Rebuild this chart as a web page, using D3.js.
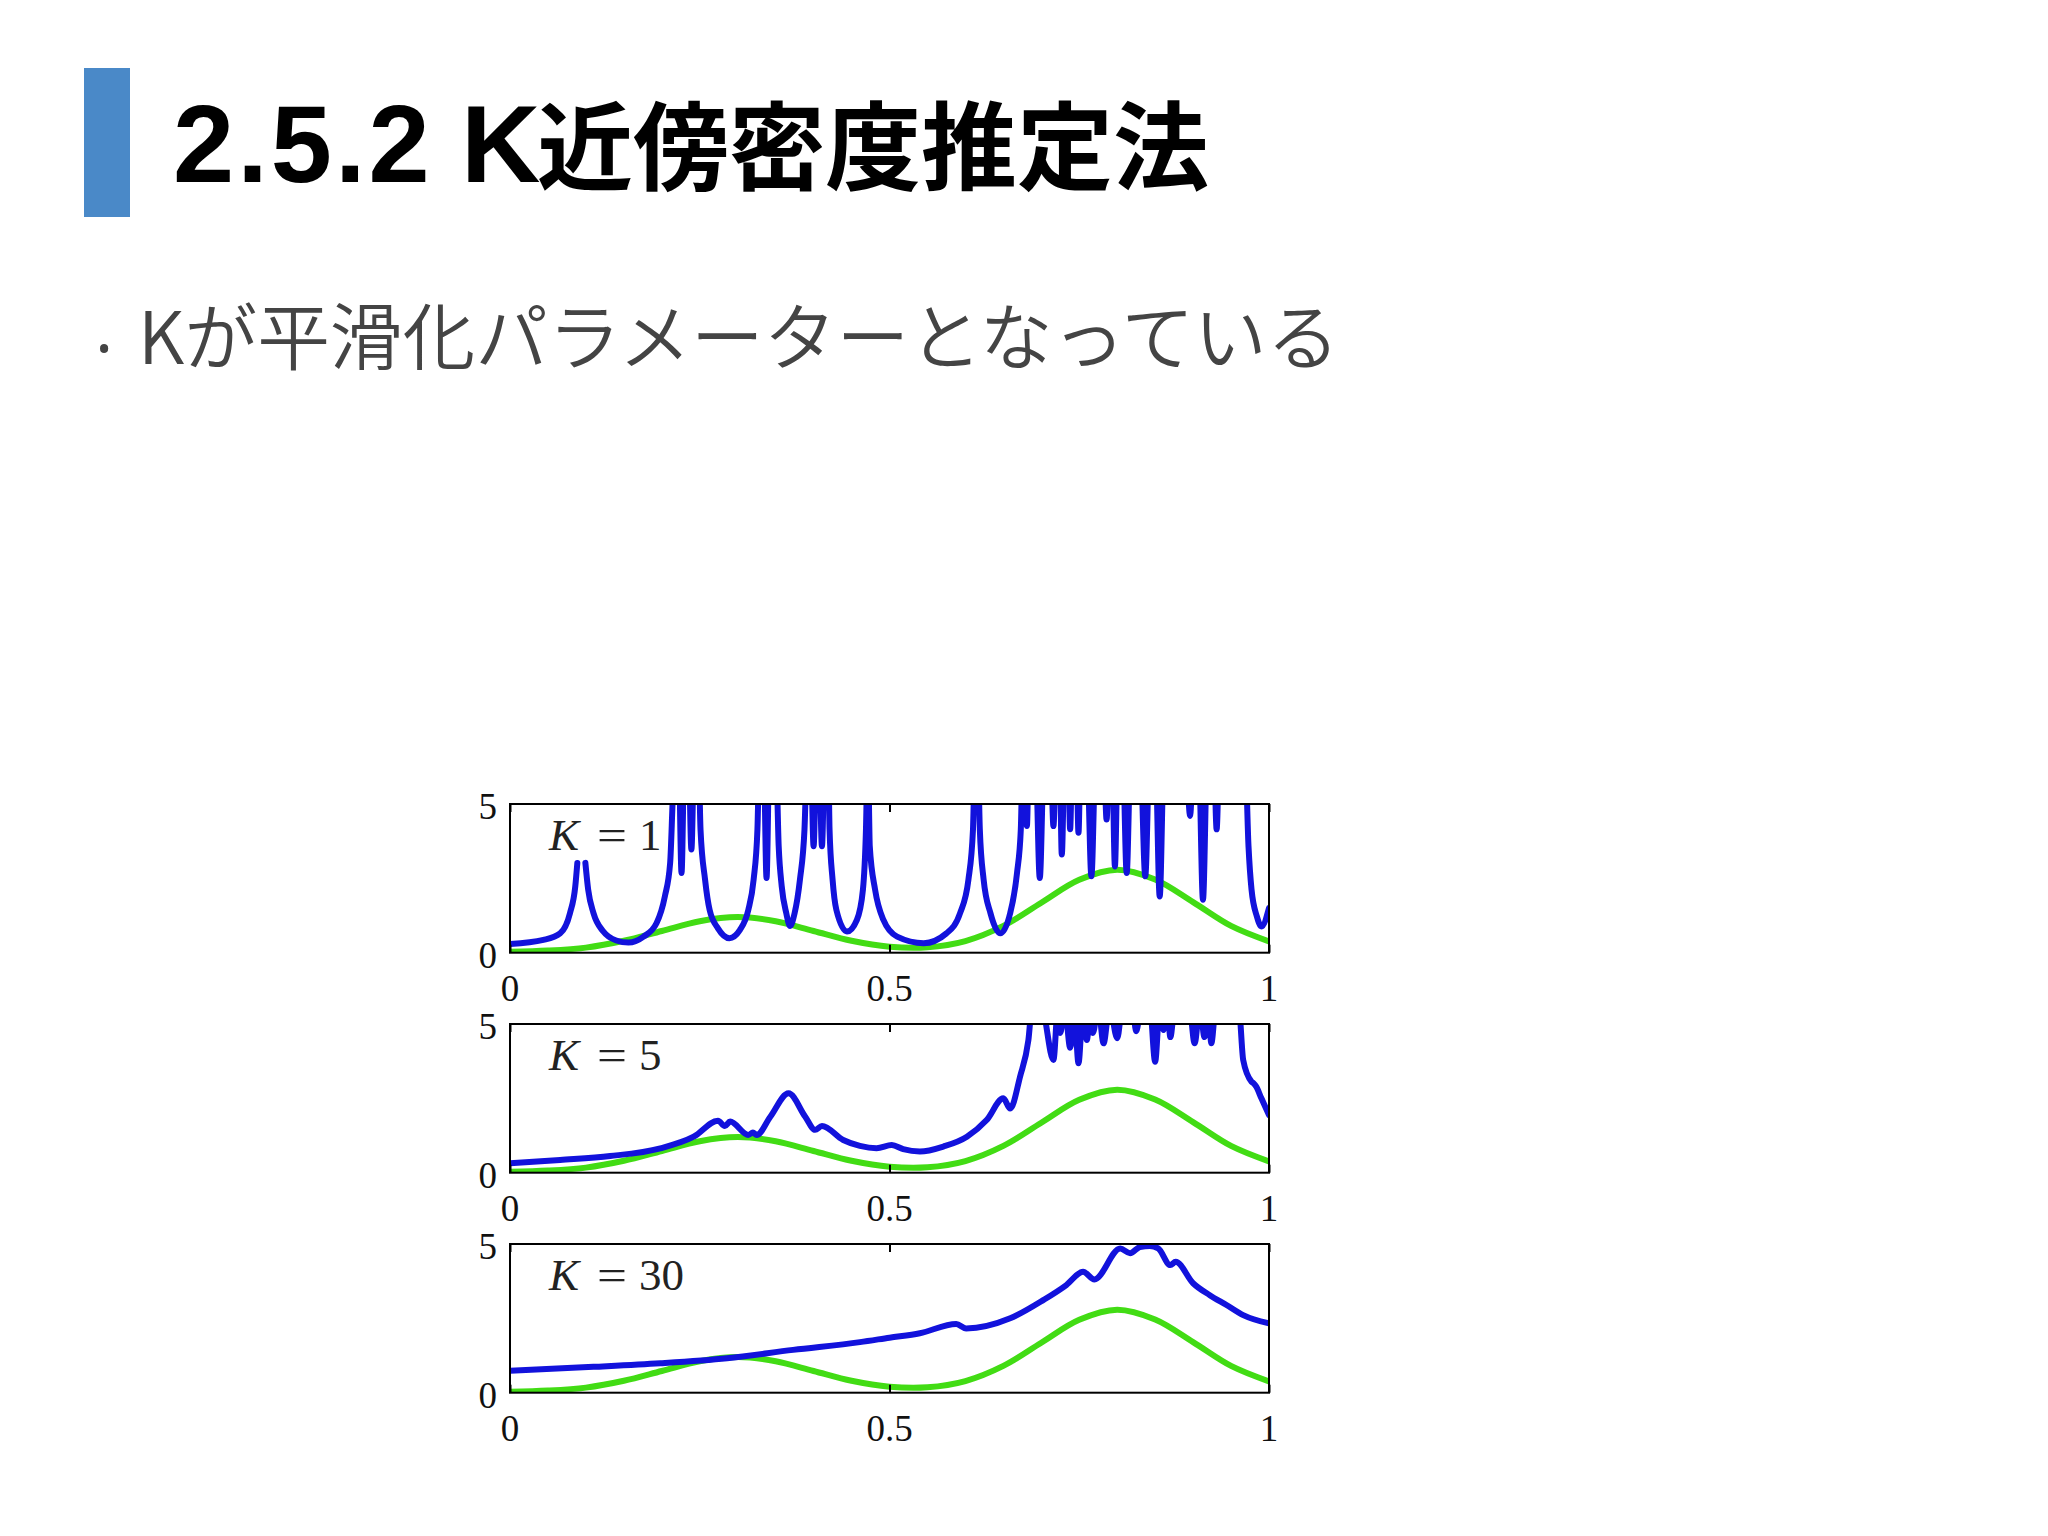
<!DOCTYPE html>
<html>
<head>
<meta charset="utf-8">
<script src="https://cdn.jsdelivr.net/npm/d3@7"></script>
<style>
  body { margin: 0; background: #fff; }
  svg { display: block; }
</style>
</head>
<body>
<svg id="chart" width="2048" height="1536"></svg>
<script>
const titleNumber = '2.5.2'
const titleLetter = 'K'
const titleKanji = '近傍密度推定法'
const bulletText = 'Kが平滑化パラメーターとなっている'

const xTicks = [0, 0.5, 1]
const yTicks = [0, 5]
const kValues = [1, 5, 30]

// true density (green)
const trueDensity = [
  [0, 0.03], [0.05, 0.07], [0.1, 0.17], [0.15, 0.40], [0.2, 0.73], [0.25, 1.06],
  [0.3, 1.20], [0.35, 1.06], [0.4, 0.73], [0.45, 0.40], [0.5, 0.20], [0.55, 0.18],
  [0.6, 0.39], [0.65, 0.90], [0.7, 1.68], [0.75, 2.45], [0.8, 2.79], [0.85, 2.46],
  [0.9, 1.70], [0.95, 0.90], [1, 0.38]
]

// K = 1 estimate (values above 5 run off the top of the box)
const densityK1 = [
  [0, 0.29], [0.044, 0.43], [0.066, 0.65], [0.079, 1.33], [0.086, 2.23], [0.0887, 3.02],
  [0.093, null], [0.0993, 3.02], [0.103, 2.12], [0.110, 1.33], [0.123, 0.71], [0.140, 0.41],
  [0.156, 0.34], [0.176, 0.54], [0.193, 0.99], [0.204, 1.89], [0.211, 3.02], [0.214, 4.9],
  [0.217, 7], [0.222, 7], [0.226, 2.68], [0.230, 7], [0.235, 7], [0.239, 3.47], [0.243, 7],
  [0.248, 7], [0.251, 4.15], [0.257, 2.46], [0.263, 1.44], [0.274, 0.82], [0.289, 0.49],
  [0.303, 0.77], [0.314, 1.44], [0.321, 2.46], [0.326, 4.15], [0.329, 7], [0.334, 7],
  [0.338, 2.51], [0.342, 7], [0.350, 7], [0.354, 3.58], [0.358, 2.23], [0.364, 1.33],
  [0.369, 0.90], [0.375, 1.33], [0.382, 2.46], [0.388, 4.15], [0.392, 7], [0.396, 7],
  [0.400, 3.58], [0.404, 7], [0.407, 7], [0.411, 3.58], [0.415, 7], [0.419, 7], [0.421, 4.15],
  [0.425, 2.46], [0.430, 1.44], [0.444, 0.71], [0.457, 1.10], [0.465, 2.12], [0.469, 4.15],
  [0.4715, 7], [0.474, 3.58], [0.481, 2.12], [0.492, 1.10], [0.510, 0.54], [0.545, 0.32],
  [0.575, 0.65], [0.593, 1.33], [0.604, 2.46], [0.610, 4.15], [0.613, 7], [0.616, 7],
  [0.619, 4.15], [0.624, 2.46], [0.633, 1.33], [0.646, 0.65], [0.659, 1.33], [0.668, 2.68],
  [0.673, 4.15], [0.676, 7], [0.678, 7], [0.681, 4.26], [0.684, 7], [0.692, 7], [0.698, 2.51],
  [0.704, 7], [0.712, 7], [0.716, 4.26], [0.720, 7], [0.724, 7], [0.727, 3.3], [0.731, 7],
  [0.735, 7], [0.738, 4.15], [0.741, 7], [0.746, 7], [0.749, 4.03], [0.752, 7], [0.760, 7],
  [0.766, 2.57], [0.772, 7], [0.782, 7], [0.786, 4.48], [0.790, 7], [0.793, 7], [0.797, 2.9],
  [0.801, 7], [0.807, 7], [0.8125, 2.68], [0.818, 7], [0.830, 7], [0.837, 2.57], [0.843, 7],
  [0.850, 7], [0.856, 1.89], [0.862, 7], [0.890, 7], [0.896, 4.6], [0.901, 7], [0.907, 7],
  [0.913, 1.78], [0.919, 7], [0.927, 7], [0.931, 4.15], [0.935, 7], [0.968, 7], [0.973, 3.58],
  [0.977, 2.12], [0.984, 1.22], [0.990, 0.88], [1, 1.5]
]

// K = 5 estimate
const densityK5 = [
  [0, 0.32], [0.066, 0.43], [0.132, 0.56], [0.198, 0.82], [0.242, 1.21], [0.274, 1.75],
  [0.283, 1.57], [0.290, 1.72], [0.314, 1.27], [0.320, 1.35], [0.325, 1.27], [0.343, 1.88],
  [0.367, 2.67], [0.389, 1.88], [0.402, 1.44], [0.411, 1.57], [0.439, 1.10], [0.461, 0.90],
  [0.483, 0.82], [0.503, 0.93], [0.518, 0.79], [0.540, 0.71], [0.571, 0.88], [0.602, 1.21],
  [0.628, 1.77], [0.650, 2.50], [0.659, 2.16], [0.672, 3.23], [0.683, 4.46], [0.688, 5.6],
  [0.700, 5.6], [0.716, 3.79], [0.722, 5.6], [0.725, 4.7], [0.731, 5.6], [0.738, 4.2],
  [0.744, 5.2], [0.749, 3.68], [0.755, 5.6], [0.760, 4.46], [0.765, 5.6], [0.768, 4.7],
  [0.775, 5.6], [0.782, 4.35], [0.790, 5.6], [0.800, 4.52], [0.807, 5.6], [0.820, 5.6],
  [0.825, 4.76], [0.832, 5.6], [0.843, 5.6], [0.850, 3.73], [0.856, 5.6], [0.861, 4.8],
  [0.866, 5.6], [0.870, 4.56], [0.876, 5.6], [0.895, 5.6], [0.902, 4.35], [0.909, 5.6],
  [0.915, 4.56], [0.920, 5.6], [0.924, 4.35], [0.930, 5.6], [0.960, 5.6], [0.966, 3.79],
  [0.977, 3.06], [0.980, 3.0], [0.983, 2.9], [0.990, 2.5], [1, 1.94]
]

// K = 30 estimate
const densityK30 = [
  [0, 0.74], [0.11, 0.87], [0.198, 0.99], [0.286, 1.16], [0.373, 1.44], [0.461, 1.70],
  [0.5, 1.85], [0.540, 2.0], [0.588, 2.31], [0.601, 2.16], [0.659, 2.50], [0.703, 3.12],
  [0.733, 3.62], [0.755, 4.07], [0.770, 3.81], [0.804, 4.85], [0.817, 4.69], [0.830, 4.9],
  [0.843, 4.93], [0.854, 4.85], [0.870, 4.29], [0.877, 4.4], [0.9, 3.68], [0.922, 3.28],
  [0.944, 2.95], [0.966, 2.61], [1, 2.33]
]

const estimates = [densityK1, densityK5, densityK30]

const svg = d3.select('#chart')

// header
svg.append('rect')
  .attr('x', 84).attr('y', 68)
  .attr('width', 46).attr('height', 149)
  .attr('fill', '#4a89c8')

const title = svg.append('text')
  .attr('y', 182)
  .attr('fill', '#000')
  .style('font-weight', 'bold')
title.append('tspan')
  .attr('x', 173)
  .style('font-family', "'Liberation Sans', Arial, sans-serif")
  .style('font-size', '110px')
  .style('letter-spacing', '3px')
  .text(titleNumber)
title.append('tspan')
  .attr('x', 461)
  .style('font-family', "'Liberation Sans', Arial, sans-serif")
  .style('font-size', '110px')
  .text(titleLetter)
title.append('tspan')
  .attr('x', 537)
  .style('font-family', "'Noto Sans CJK JP', sans-serif")
  .style('font-size', '96px')
  .text(titleKanji)

svg.append('text')
  .attr('x', 104).attr('y', 372)
  .attr('text-anchor', 'middle')
  .attr('fill', '#444')
  .style('font-family', "'Noto Sans', sans-serif")
  .style('font-size', '66px')
  .text('·')

svg.append('text')
  .attr('x', 138).attr('y', 364)
  .attr('fill', '#444')
  .style('font-family', "'Noto Sans CJK JP', sans-serif")
  .style('font-weight', 350)
  .style('font-size', '72.7px')
  .text(bulletText)

// panels
const left = 510
const right = 1269
const panelH = 148.7
const panelTops = [804, 1024, 1244]

const xScale = d3.scaleLinear().domain([0, 1]).range([left, right])

const serif = "'Liberation Serif', 'Times New Roman', serif"

panelTops.forEach((top, i) => {
  const yScale = d3.scaleLinear().domain([0, 5]).range([top + panelH, top])
  const g = svg.append('g')

  const clipId = 'clip' + i
  svg.append('clipPath').attr('id', clipId)
    .append('rect')
    .attr('x', left).attr('y', top)
    .attr('width', right - left).attr('height', panelH)

  const line = d3.line()
    .defined(d => d[1] != null)
    .x(d => xScale(d[0]))
    .y(d => yScale(d[1]))

  const lines = g.append('g').attr('clip-path', `url(#${clipId})`)

  lines.append('path')
    .datum(trueDensity)
    .attr('d', line.curve(d3.curveCatmullRom.alpha(0.5)))
    .attr('fill', 'none')
    .attr('stroke', '#42dc14')
    .attr('stroke-width', 6)
    .attr('stroke-linejoin', 'round')

  lines.append('path')
    .datum(estimates[i])
    .attr('d', line.curve(d3.curveMonotoneX))
    .attr('fill', 'none')
    .attr('stroke', '#1212dc')
    .attr('stroke-width', 6)
    .attr('stroke-linejoin', 'round')
    .attr('stroke-linecap', 'round')

  // inward ticks, top and bottom
  const xAxisBottom = d3.axisTop(xScale).tickValues(xTicks).tickSize(8).tickFormat('')
  const xAxisTop = d3.axisBottom(xScale).tickValues(xTicks).tickSize(8).tickFormat('')
  g.append('g').attr('transform', `translate(0,${top + panelH})`).call(xAxisBottom)
    .call(a => a.select('.domain').remove())
    .call(a => a.selectAll('.tick line').attr('stroke', '#000').attr('stroke-width', 2))
  g.append('g').attr('transform', `translate(0,${top})`).call(xAxisTop)
    .call(a => a.select('.domain').remove())
    .call(a => a.selectAll('.tick line').attr('stroke', '#000').attr('stroke-width', 2))

  // box
  g.append('rect')
    .attr('x', left).attr('y', top)
    .attr('width', right - left).attr('height', panelH)
    .attr('fill', 'none')
    .attr('stroke', '#000')
    .attr('stroke-width', 2)

  // tick labels
  g.selectAll('.ylab')
    .data(yTicks)
    .join('text')
    .attr('class', 'ylab')
    .attr('x', left - 13)
    .attr('y', d => yScale(d) + 15)
    .attr('text-anchor', 'end')
    .attr('fill', '#111')
    .style('font-family', serif)
    .style('font-size', '37px')
    .text(d => d)

  g.selectAll('.xlab')
    .data(xTicks)
    .join('text')
    .attr('class', 'xlab')
    .attr('x', d => xScale(d))
    .attr('y', top + panelH + 48)
    .attr('text-anchor', 'middle')
    .attr('fill', '#111')
    .style('font-family', serif)
    .style('font-size', '37px')
    .text(d => d)

  // K label
  const lab = g.append('text')
    .attr('y', top + 46)
    .attr('fill', '#222')
    .style('font-family', serif)
    .style('font-size', '45px')
  lab.append('tspan').attr('x', left + 39).style('font-style', 'italic').text('K')
  lab.append('tspan').attr('x', left + 87)
    .attr('textLength', 30).attr('lengthAdjust', 'spacingAndGlyphs').text('=')
  lab.append('tspan').attr('x', left + 129).text(kValues[i])
})
</script>
</body>
</html>
